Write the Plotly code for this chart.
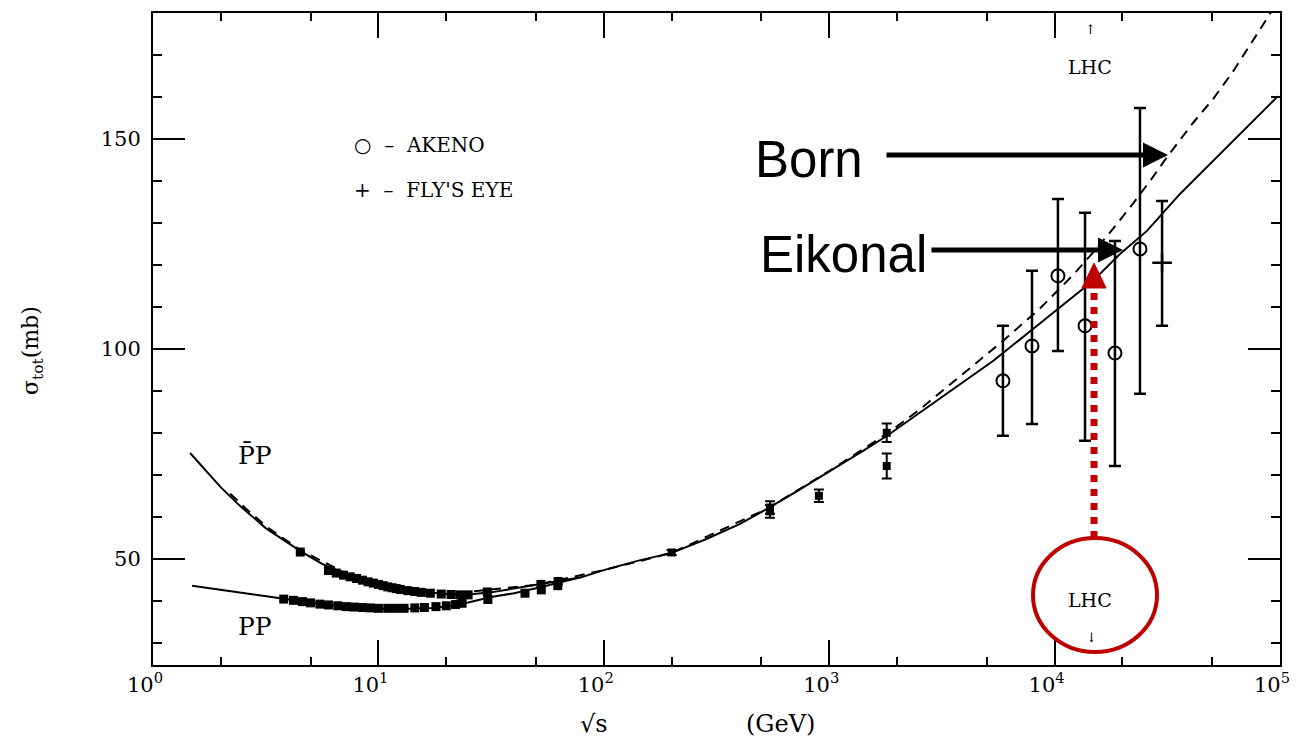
import plotly.graph_objects as go

# ---------------- data ----------------
# Eikonal (solid) p-bar p curve
eik_sqrt_s = [1.46, 2.0, 2.43, 3.16, 4.49, 5.62, 7.5, 10, 12.6, 15.8, 20, 25.1, 31.6, 39.8, 50.1,
              63.1, 79.4, 100, 141, 200, 282, 398, 530, 708, 1000, 1413, 1807, 2512, 3800, 5330,
              7550, 10570, 14800, 19500, 25700, 36000, 50500, 71400, 98000]
eik_sigma = [75.2, 67.0, 62.6, 57.3, 51.9, 48.8, 46.0, 44.3, 43.0, 42.1, 41.6, 41.5, 42.0, 42.9, 43.8,
             44.6, 45.6, 47.3, 49.5, 51.4, 54.6, 58.2, 61.9, 65.9, 70.7, 75.7, 79.3, 84.7, 91.7, 97.1,
             103.6, 109.8, 116.2, 122.6, 128.1, 136.9, 144.8, 152.8, 160.2]

# Born (dashed) curve
born_sqrt_s = [2.2, 2.6, 3.2, 3.8, 4.49, 7.5, 10, 20, 50.1, 100, 200, 530, 1000, 1807, 2512, 4345,
               5900, 8610, 12080, 14800, 18160, 22280, 27040, 31840, 41110, 50470, 61800, 77450, 92000]
born_sigma = [65.5, 61.8, 57.6, 54.8, 52.1, 46.0, 44.3, 41.6, 43.8, 47.3, 51.4, 61.9, 70.9, 79.8, 85.5, 96.0,
              101.9, 109.6, 117.6, 122.9, 128.6, 134.6, 140.6, 146.0, 153.8, 159.5, 166.0, 174.2, 180.5]

# pp curve
pp_sqrt_s = [1.49, 2.0, 2.8, 3.8, 5.0, 7.0, 10.5, 14, 17.5, 21, 25, 31.6, 40, 50, 63, 79]
pp_sigma = [43.6, 42.7, 41.5, 40.5, 39.5, 38.7, 38.1, 38.1, 38.3, 38.8, 39.6, 40.9, 41.8, 43.0, 44.3, 45.6]

# accelerator data, p-bar p
pbp_data_s = [4.5, 6.0, 6.5, 7.0, 7.5, 8.0, 8.5, 9.0, 9.5, 10, 10.5, 11, 11.5, 12, 12.5, 13.5, 14.5,
              15.5, 17, 19, 21, 23, 25, 30.4, 52.6, 62.7]
pbp_data_sigma = [51.6, 47.2, 46.6, 46.1, 45.7, 45.3, 44.9, 44.5, 44.2, 43.9, 43.6, 43.3, 43.1, 42.9,
                  42.7, 42.4, 42.2, 42.0, 41.8, 41.6, 41.5, 41.4, 41.4, 42.1, 43.9, 44.6]

# accelerator data, pp
pp_data_s = [3.8, 4.2, 4.6, 5.0, 5.5, 6.0, 6.6, 7.2, 7.8, 8.5, 9.2, 10, 11, 12, 13, 14.5, 16, 18, 20,
             22, 23.5, 30.6, 44.7, 52.8, 62.5]
pp_data_sigma = [40.4, 40.1, 39.8, 39.5, 39.2, 39.0, 38.8, 38.6, 38.5, 38.4, 38.3, 38.2, 38.2, 38.2,
                 38.2, 38.3, 38.4, 38.6, 38.8, 39.1, 39.4, 40.3, 41.8, 42.6, 43.6]

# collider points (SppS, Tevatron)
coll_s = [200, 546, 546, 900, 1800, 1800]
coll_sigma = [51.5, 62.2, 61.3, 65.0, 80.0, 72.1]
coll_err = [0.6, 1.5, 1.5, 1.5, 2.2, 3.0]

# cosmic rays
akeno_s = [5900, 7940, 10350, 13650, 18530, 23930]
akeno_sigma = [92.4, 100.7, 117.4, 105.5, 99.0, 123.8]
akeno_err_plus = [13.1, 17.9, 18.3, 26.9, 26.7, 33.6]
akeno_err_minus = [13.1, 18.6, 17.9, 27.4, 26.9, 34.5]

flys_s = [29990]
flys_sigma = [120.5]
flys_err_plus = [14.7]
flys_err_minus = [15.0]

x_tickvals = [1, 10, 100, 1000, 10000, 100000]
x_ticktext = ["10<sup>0</sup>", "10<sup>1</sup>", "10<sup>2</sup>", "10<sup>3</sup>",
              "10<sup>4</sup>", "10<sup>5</sup>"]
y_tickvals = [50, 100, 150]

# ---------------- figure ----------------
SERIF = "DejaVu Serif"
BLACK = "black"
RED = "#C00000"

# page body has an 8px margin: figure coordinates = screen coordinates - 8
OFF = 8
W, H = 1294, 738
L, T = 153 - OFF, 13 - OFF
R = W - (1280 - OFF)
B = H - (665 - OFF)
PW, PH = W - L - R, H - T - B


def px(xs):
    # screen x -> paper fraction
    return (xs - OFF - L) / PW


def py(ys):
    # screen y -> paper fraction
    return (H - B - (ys - OFF)) / PH


fig = go.Figure()

fig.add_trace(go.Scatter(x=pbp_data_s, y=pbp_data_sigma, mode="markers",
                         marker=dict(symbol="square", size=9, color=BLACK), showlegend=False))
fig.add_trace(go.Scatter(x=pp_data_s, y=pp_data_sigma, mode="markers",
                         marker=dict(symbol="square", size=9, color=BLACK), showlegend=False))
fig.add_trace(go.Scatter(x=eik_sqrt_s, y=eik_sigma, mode="lines",
                         line=dict(color=BLACK, width=2), showlegend=False))
fig.add_trace(go.Scatter(x=pp_sqrt_s, y=pp_sigma, mode="lines",
                         line=dict(color=BLACK, width=2), showlegend=False))
fig.add_trace(go.Scatter(x=born_sqrt_s, y=born_sigma, mode="lines",
                         line=dict(color=BLACK, width=2, dash="10px,7px"), showlegend=False))
fig.add_trace(go.Scatter(x=coll_s, y=coll_sigma, mode="markers",
                         marker=dict(symbol="square", size=8, color=BLACK),
                         error_y=dict(type="data", array=coll_err, color=BLACK, thickness=2, width=5),
                         showlegend=False))
fig.add_trace(go.Scatter(x=akeno_s, y=akeno_sigma, mode="markers",
                         marker=dict(symbol="circle-open", size=13, color=BLACK, line=dict(width=2)),
                         error_y=dict(type="data", symmetric=False, array=akeno_err_plus,
                                      arrayminus=akeno_err_minus, color=BLACK, thickness=2.5, width=6),
                         showlegend=False))
fig.add_trace(go.Scatter(x=flys_s, y=flys_sigma, mode="markers",
                         marker=dict(symbol="cross-thin-open", size=14, color=BLACK, line=dict(width=2.5)),
                         error_y=dict(type="data", symmetric=False, array=flys_err_plus,
                                      arrayminus=flys_err_minus, color=BLACK, thickness=2.5, width=6),
                         showlegend=False))

axis_common = dict(showline=True, linecolor=BLACK, linewidth=2, mirror="allticks",
                   ticks="inside", tickcolor=BLACK, tickwidth=2, showgrid=False, zeroline=False,
                   tickfont=dict(family=SERIF, size=21, color=BLACK))

fig.update_xaxes(type="log", range=[-0.0002, 5.0002], tickvals=x_tickvals, ticktext=x_ticktext,
                 ticklen=25, ticklabeloverflow="allow", ticklabelshift=-8,
                 minor=dict(ticks="inside", ticklen=8, tickwidth=1.5, tickcolor=BLACK, showgrid=False),
                 **axis_common)
fig.update_yaxes(range=[24.7, 180], tickvals=y_tickvals, ticklen=32, ticklabelstandoff=6,
                 minor=dict(ticks="inside", ticklen=9, tickwidth=1.5, tickcolor=BLACK, dtick=10,
                            tick0=0, showgrid=False),
                 **axis_common)

ann = []


def text(x, y, s, size=20, family=SERIF, xanchor="center", angle=0):
    ann.append(dict(xref="paper", yref="paper", x=px(x), y=py(y), text=s, showarrow=False,
                    font=dict(family=family, size=size, color=BLACK), xanchor=xanchor,
                    yanchor="middle", textangle=angle))


text(32, 350, "σ<sub>tot</sub>(mb)", size=22, angle=-90)
text(594, 724, "√s", size=24)
text(780, 724, "(GeV)", size=24)
text(352, 145, "○  –  AKENO", size=20, xanchor="left")
text(352, 190, "+  –  FLY'S EYE", size=20, xanchor="left")
text(255, 455, "P\u0304P", size=25)
text(255, 626, "PP", size=25)
text(1090, 67, "LHC", size=19)
text(1090, 30, "↑", size=13)
text(1090, 600, "LHC", size=19)
text(1091, 637, "↓", size=13)
text(809, 159, "Born", size=51, family="Liberation Sans")
text(843, 255, "Eikonal", size=51, family="Liberation Sans")

# black arrows
ann.append(dict(xref="paper", yref="paper", x=px(1168), y=py(155), ax=-283, ay=0,
                axref="pixel", ayref="pixel", text="", showarrow=True, arrowhead=2,
                arrowsize=1.0, arrowwidth=5, arrowcolor=BLACK))
ann.append(dict(xref="paper", yref="paper", x=px(1123), y=py(250), ax=-193, ay=0,
                axref="pixel", ayref="pixel", text="", showarrow=True, arrowhead=2,
                arrowsize=1.0, arrowwidth=5, arrowcolor=BLACK))

fig.update_layout(annotations=ann)

# red circle + dotted arrow
shapes = [
    dict(type="circle", xref="paper", yref="paper", x0=px(1033), x1=px(1157), y0=py(652), y1=py(538),
         line=dict(color=RED, width=4)),
    dict(type="line", xref="paper", yref="paper", x0=px(1094), x1=px(1094), y0=py(538), y1=py(287),
         line=dict(color=RED, width=7, dash="7px,7px")),
    dict(type="path", xref="paper", yref="paper",
         path=f"M {px(1082)} {py(288)} L {px(1106)} {py(288)} L {px(1094)} {py(263)} Z",
         fillcolor=RED, line=dict(color=RED, width=1)),
]
fig.update_layout(shapes=shapes)

fig.update_layout(width=W, height=H, margin=dict(l=L, r=R, t=T, b=B, autoexpand=False),
                  paper_bgcolor="white", plot_bgcolor="white", showlegend=False)

fig.write_html("out.html")
